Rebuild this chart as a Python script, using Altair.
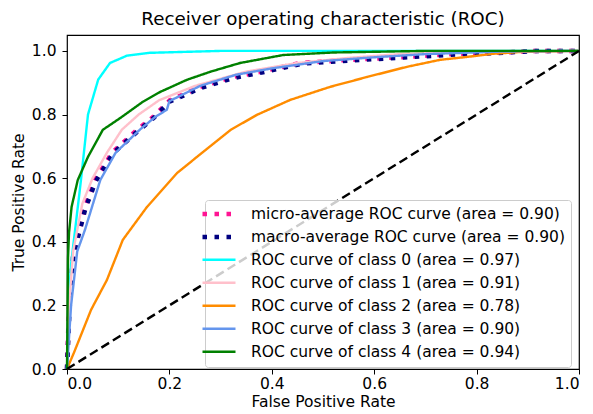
import altair as alt
import pandas as pd

# ---- data ----
labels = [
    "micro-average ROC curve (area = 0.90)",
    "macro-average ROC curve (area = 0.90)",
    "ROC curve of class 0 (area = 0.97)",
    "ROC curve of class 1 (area = 0.91)",
    "ROC curve of class 2 (area = 0.78)",
    "ROC curve of class 3 (area = 0.90)",
    "ROC curve of class 4 (area = 0.94)",
]
colors = ["#ff1493", "#000080", "#00ffff", "#ffc0cb", "#ff8c00", "#6495ed", "#008000"]

micro_fpr = [0, 0.004, 0.012, 0.035, 0.055, 0.088, 0.137, 0.168, 0.201, 0.26, 0.324, 0.377, 0.455, 0.553, 0.65, 0.748, 0.832, 0.92, 1.0]
micro_tpr = [0, 0.2, 0.365, 0.51, 0.594, 0.68, 0.752, 0.792, 0.845, 0.887, 0.918, 0.934, 0.962, 0.972, 0.98, 0.99, 0.994, 1.0, 1.0]

macro_fpr = [0, 0.005, 0.013, 0.036, 0.056, 0.09, 0.14, 0.17, 0.2, 0.262, 0.326, 0.38, 0.46, 0.555, 0.655, 0.75, 0.835, 0.92, 1.0]
macro_tpr = [0, 0.19, 0.36, 0.505, 0.59, 0.678, 0.75, 0.79, 0.84, 0.884, 0.915, 0.932, 0.96, 0.97, 0.979, 0.988, 0.993, 1.0, 1.0]

c0_fpr = [0, 0.003, 0.008, 0.016, 0.027, 0.041, 0.061, 0.084, 0.117, 0.162, 0.3, 1.0]
c0_tpr = [0, 0.2, 0.33, 0.44, 0.59, 0.80, 0.91, 0.962, 0.985, 0.994, 1.0, 1.0]

c1_fpr = [0, 0.004, 0.012, 0.03, 0.05, 0.078, 0.107, 0.14, 0.18, 0.25, 0.35, 0.45, 0.55, 0.65, 0.8, 1.0]
c1_tpr = [0, 0.2, 0.37, 0.52, 0.60, 0.68, 0.752, 0.80, 0.845, 0.89, 0.935, 0.962, 0.978, 0.99, 0.998, 1.0]

c2_fpr = [0, 0.014, 0.047, 0.078, 0.109, 0.156, 0.215, 0.254, 0.32, 0.371, 0.436, 0.514, 0.586, 0.664, 0.729, 0.781, 0.832, 0.89, 1.0]
c2_tpr = [0, 0.053, 0.186, 0.28, 0.406, 0.509, 0.616, 0.667, 0.752, 0.799, 0.846, 0.887, 0.918, 0.95, 0.972, 0.981, 0.991, 0.997, 1.0]

c3_fpr = [0, 0.008, 0.02, 0.035, 0.065, 0.095, 0.142, 0.172, 0.195, 0.2, 0.26, 0.33, 0.4, 0.5, 0.6, 0.7, 0.85, 1.0]
c3_tpr = [0, 0.2, 0.37, 0.437, 0.594, 0.68, 0.752, 0.792, 0.815, 0.842, 0.89, 0.925, 0.945, 0.968, 0.98, 0.99, 0.998, 1.0]

c4_fpr = [0, 0.002, 0.004, 0.009, 0.021, 0.041, 0.07, 0.104, 0.148, 0.182, 0.234, 0.279, 0.338, 0.422, 0.52, 0.7, 1.0]
c4_tpr = [0, 0.35, 0.43, 0.51, 0.594, 0.667, 0.752, 0.789, 0.84, 0.871, 0.909, 0.934, 0.962, 0.987, 0.995, 1.0, 1.0]

diag = [0.0, 1.0]
ticks = [0.0, 0.2, 0.4, 0.6, 0.8, 1.0]

# ---- build table ----
series = [
    (micro_fpr, micro_tpr), (macro_fpr, macro_tpr), (c0_fpr, c0_tpr),
    (c1_fpr, c1_tpr), (c2_fpr, c2_tpr), (c3_fpr, c3_tpr), (c4_fpr, c4_tpr),
]
rows = []
for k, (lab, (xs, ys)) in enumerate(zip(labels, series)):
    for i, (x, y) in enumerate(zip(xs, ys)):
        rows.append({"series": lab, "fpr": x, "tpr": y, "k": k, "i": i})
df = pd.DataFrame(rows)
ddf = pd.DataFrame({"fpr": diag, "tpr": diag})

FONT = "DejaVu Sans"
FS = 15.5
dashes = [[4.5, 7.5], [4.5, 7.5], [1, 0], [1, 0], [1, 0], [1, 0], [1, 0]]
widths = [4.5, 4.5, 2.4, 2.4, 2.4, 2.4, 2.4]

xscale = alt.Scale(domain=[0, 1], nice=False, zero=False)
yscale = alt.Scale(domain=[0, 1.05], nice=False, zero=False)

xaxis = alt.Axis(title="False Positive Rate", values=ticks, format=".1f", grid=False,
                 domain=False, tickColor="black", tickSize=5, labelPadding=2,
                 titlePadding=3)
yaxis = alt.Axis(title="True Positive Rate", values=ticks, format=".1f", grid=False,
                 domain=False, tickColor="black", tickSize=5, labelPadding=6,
                 titlePadding=5)

leg = alt.Legend(title=None, orient="none", legendX=138, legendY=165)
lines = alt.Chart(df).mark_line().encode(
    x=alt.X("fpr:Q", scale=xscale, axis=xaxis),
    y=alt.Y("tpr:Q", scale=yscale, axis=yaxis),
    color=alt.Color("series:N", scale=alt.Scale(domain=labels, range=colors), legend=leg),
    strokeDash=alt.StrokeDash("series:N", scale=alt.Scale(domain=labels, range=dashes), legend=leg),
    strokeWidth=alt.StrokeWidth("series:N", scale=alt.Scale(type="ordinal", domain=labels, range=widths),
                                legend=leg),
    order="i:Q",
    detail="k:Q",
)

diagonal = alt.Chart(ddf).mark_line(color="black", strokeDash=[9, 4.5], strokeWidth=2.4).encode(
    x=alt.X("fpr:Q", scale=xscale),
    y=alt.Y("tpr:Q", scale=yscale),
)

chart = alt.layer(lines, diagonal).properties(
    width=512, height=334,
    autosize=alt.AutoSizeParams(type="none"),
    padding={"left": 59, "top": 27, "right": 6, "bottom": 43},
    title=alt.TitleParams("Receiver operating characteristic (ROC)", fontSize=18.3,
                          fontWeight="normal", font=FONT, color="black", offset=6),
).configure_view(stroke="black", strokeWidth=1.2).configure_axis(
    labelFont=FONT, titleFont=FONT, labelFontSize=FS, titleFontSize=FS,
    labelColor="black", titleColor="black", titleFontWeight="normal",
).configure_legend(
    labelFont=FONT, labelFontSize=FS, labelColor="black",
    symbolType="M-3,0H3", symbolSize=121, labelOffset=24,
    rowPadding=5, padding=6, strokeColor="#cccccc", fillColor="rgba(255,255,255,0.8)",
    cornerRadius=3, labelLimit=400, gridAlign="all",
)

chart.save("out.html", embed_options={"renderer": "svg", "actions": False})
